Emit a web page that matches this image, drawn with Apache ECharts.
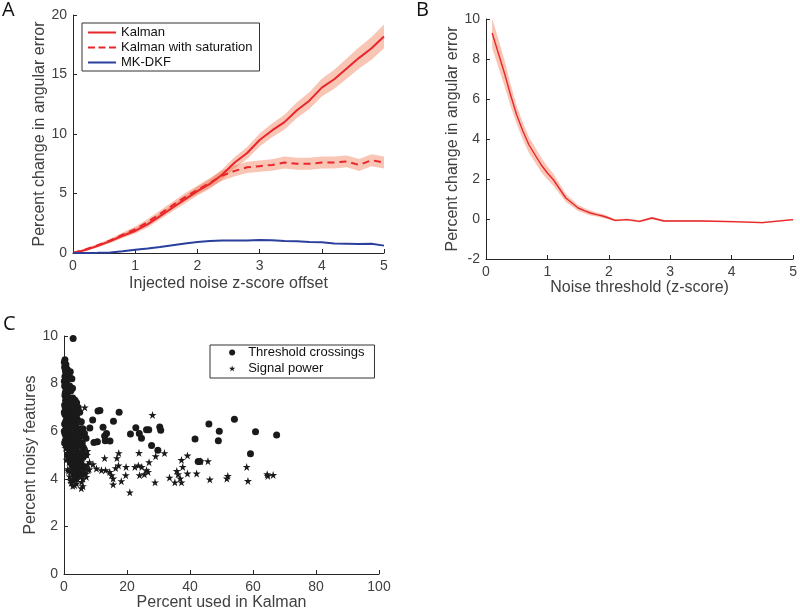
<!DOCTYPE html>
<html>
<head>
<meta charset="utf-8">
<script src="https://cdn.jsdelivr.net/npm/echarts@6/dist/echarts.min.js"></script>
<style>html,body{margin:0;padding:0;background:#fff}#c{width:800px;height:612px}</style>
</head>
<body>
<div id="c"></div>
<script>
// ---------- Panel A ----------
const xA = [0,0.2,0.4,0.6,0.8,1.0,1.2,1.4,1.6,1.8,2.0,2.2,2.4,2.6,2.8,3.0,3.2,3.4,3.6,3.8,4.0,4.2,4.4,4.6,4.8,5.0];
const kalman = [0,0.25,0.6,1.0,1.45,1.85,2.4,3.1,3.8,4.5,5.2,5.8,6.6,7.6,8.4,9.5,10.3,11.0,12.0,12.8,13.9,14.6,15.5,16.4,17.2,18.2];
const kalmanErr = [0,0.08,0.12,0.15,0.18,0.22,0.25,0.28,0.3,0.33,0.36,0.4,0.43,0.47,0.5,0.55,0.58,0.62,0.66,0.7,0.75,0.8,0.85,0.9,0.95,1.0];
const kalmanSat = [0,0.3,0.65,1.05,1.55,2.0,2.6,3.3,4.0,4.7,5.3,5.9,6.5,6.9,7.2,7.3,7.4,7.6,7.5,7.5,7.6,7.6,7.7,7.4,7.8,7.6];
const kalmanSatErr = [0,0.08,0.12,0.15,0.18,0.22,0.25,0.28,0.3,0.33,0.36,0.4,0.43,0.45,0.47,0.48,0.48,0.5,0.5,0.5,0.5,0.5,0.5,0.5,0.5,0.5];
const mkdkf = [0,0,0.02,0.05,0.15,0.28,0.38,0.5,0.65,0.8,0.92,1.0,1.05,1.05,1.05,1.1,1.08,1.0,0.98,0.93,0.9,0.8,0.78,0.76,0.78,0.62];

// ---------- Panel B ----------
const xB = [0.1,0.2,0.3,0.4,0.5,0.6,0.7,0.8,0.9,1.0,1.1,1.2,1.3,1.4,1.5,1.6,1.7,1.8,1.9,2.0,2.1,2.3,2.5,2.7,2.9,3.5,4.0,4.5,5.0];
const threshB = [9.3,8.3,7.3,6.2,5.2,4.4,3.7,3.2,2.7,2.3,1.95,1.5,1.05,0.8,0.55,0.42,0.3,0.22,0.15,0.05,-0.07,-0.03,-0.12,0.05,-0.1,-0.1,-0.13,-0.18,-0.03];
const threshBErr = [0.75,0.7,0.65,0.55,0.45,0.42,0.4,0.38,0.36,0.33,0.3,0.25,0.2,0.17,0.15,0.13,0.12,0.1,0.1,0.08,0.06,0.06,0.06,0.06,0.05,0.04,0.04,0.04,0.04];

// ---------- Panel C ----------
const crossings = [
 [2.9,9.9],[11.4,6.87],[10.8,6.85],[17.5,6.8],[9.1,6.47],[12.4,6.17],[15.7,6.42],[8.2,6.13],[13.5,5.9],[12.9,5.8],
 [13.1,5.6],[10.6,5.56],[9.5,5.53],[14.6,5.59],[21.1,5.88],[22.8,6.15],[23.9,5.9],[24.6,5.7],[26.2,6.06],[26.9,6.06],
 [27.8,5.4],[29.8,5.2],[30.4,6.18],[30.7,6.04],[41.6,5.67],[46.0,6.3],[49.3,6.0],[49.0,5.6],[54.1,6.5],[60.8,5.98],
 [59.2,5.05],[67.5,5.84],[42.6,4.73],[43.1,4.73],
 [0.3,9.0],[0.6,8.8],[0.2,8.7],[1.0,8.6],[0.5,8.5],[1.5,8.5],[2.0,8.5],[0.3,8.3],[1.2,8.2],[2.5,8.2],
 [0.8,8.0],[0.2,7.9],[1.8,7.9],[0.6,7.7],[1.4,7.7],[2.2,7.7],[0.3,7.5],[1.0,7.5],[2.8,7.4],[0.5,7.3],
 [1.6,7.3],[3.5,7.3],[0.2,7.1],[1.2,7.1],[2.3,7.1],[4.0,7.2],[0.7,6.9],[1.8,6.9],[2.9,6.9],[4.5,7.0],
 [0.3,6.7],[1.3,6.7],[2.5,6.7],[3.6,6.7],[5.0,6.8],[0.8,6.5],[2.0,6.5],[3.1,6.5],[4.2,6.5],[5.5,6.4],
 [0.2,6.3],[1.5,6.3],[2.6,6.3],[3.8,6.3],[0.6,6.1],[1.9,6.1],[3.2,6.1],[4.6,6.0],[6.0,6.1],[0.3,5.9],
 [1.2,5.9],[2.4,5.9],[3.6,5.9],[5.2,5.8],[0.8,5.7],[2.0,5.7],[3.0,5.6],[4.3,5.6],[5.8,5.5],[0.2,5.5],
 [1.5,5.5],[2.6,5.4],[3.9,5.3],[6.2,5.3],[1.0,5.3],[2.1,5.1],[3.3,5.0],[4.8,5.0],[1.6,4.9],[2.8,4.8],
 [4.1,4.7],[5.5,4.6],[3.0,4.5],[4.5,4.4],[3.6,4.3],[6.5,4.5],[5.0,4.2],[2.5,4.6],[7.0,5.7],[6.8,5.0],
 [0.1,8.9],[0.4,8.6],[0.9,8.4],[1.7,8.3],[0.1,8.1],[0.6,8.2],[1.1,7.9],[2.7,7.8],[0.4,7.6],[1.9,7.4],
 [1.3,7.4],[2.4,7.3],[0.9,7.2],[3.2,7.0],[0.4,7.0],[1.5,6.9],[2.2,6.8],[0.1,6.8],[3.3,6.8],[4.0,6.7],
 [1.0,6.6],[1.8,6.6],[2.8,6.6],[0.5,6.4],[1.2,6.4],[2.4,6.4],[3.5,6.4],[4.6,6.4],[0.9,6.2],[2.2,6.2],
 [2.9,6.2],[4.0,6.1],[5.3,6.1],[0.1,6.0],[1.6,6.0],[2.7,6.0],[4.3,5.9],[0.6,5.8],[1.7,5.7],[3.3,5.8],
 [4.8,5.7],[6.5,5.9],[0.4,5.6],[1.2,5.6],[2.4,5.6],[3.6,5.5],[5.0,5.4],[0.7,5.4],[1.9,5.3],[3.0,5.2],
 [4.4,5.1],[5.6,5.1],[2.4,5.0],[3.8,4.9],[1.2,5.0],[5.2,4.8],[3.3,4.6],[4.8,4.5],[2.0,4.7],[6.0,4.9],
 [4.0,4.3],[5.8,4.2],[3.2,4.2],[4.5,4.1],[3.8,4.0]
];
const signalPower = [
 [28.1,6.68],[7.4,5.17],[12.9,4.87],[17.4,5.08],[16.8,4.87],[23.8,5.09],[29.1,4.95],[31.9,5.08],[27.0,4.7],[39.2,4.98],
 [37.3,4.79],[37.7,4.5],[35.8,4.33],[36.2,4.19],[36.9,4.01],[33.5,4.05],[35.2,3.85],[37.3,3.85],[28.9,3.85],[20.9,3.43],
 [42.1,4.22],[39.2,4.22],[43.4,4.74],[45.7,4.74],[46.3,3.97],[58.0,4.5],[58.4,3.91],[51.7,4.01],[52.0,4.12],[64.5,4.19],
 [66.4,4.16],[64.7,4.12],[23.6,4.56],[24.0,4.15],[26.2,4.36],[26.7,4.29],[25.5,4.19],[24.7,4.5],[22.5,4.5],[19.7,4.5],
 [19.6,4.15],[18.2,3.9],[15.6,4.01],[15.6,3.76],[15.1,4.15],[16.4,4.45],[17.3,4.56],[14.5,4.29],[13.2,4.36],[11.9,4.36],
 [10.3,4.43],[9.2,4.61],[8.1,4.7],[7.7,4.36],[5.5,3.6],[6.0,3.69],[3.4,3.73],[2.3,3.83],[2.0,3.94],[5.6,3.87],
 [7.1,4.08],[1.4,4.33],
 [0.5,5.3],[1.0,5.1],[1.5,5.2],[2.0,5.0],[2.5,4.9],[3.0,5.1],[0.8,4.8],[1.6,4.7],[2.3,4.6],[3.2,4.7],
 [4.0,4.8],[4.8,4.6],[5.5,4.7],[6.2,4.5],[1.2,4.4],[2.0,4.3],[2.8,4.4],[3.5,4.3],[4.3,4.4],[5.0,4.3],
 [5.8,4.3],[6.6,4.4],[7.5,4.6],[1.8,4.1],[2.6,4.0],[3.4,4.1],[4.2,4.0],[5.1,4.1],[6.0,4.0],[3.0,3.9],
 [4.0,3.8],[2.8,3.7],[4.6,4.9],[6.9,4.2],[8.0,4.4],[7.3,5.0],[3.8,5.3],[5.3,5.0],[6.6,7.0],[5.4,6.0]
];

// ---------- build ----------
const RED = '#e8262b', BLUE = '#2b3f9c', BAND = 'rgba(240,110,70,0.40)', AX = '#262626', TXT = '#404040';
const FONT = 'Liberation Sans, Arial, sans-serif';
const STAR = 'path://M50,0 L61.2,34.5 L97.6,34.5 L68.2,55.9 L79.4,90.5 L50,69.1 L20.6,90.5 L31.8,55.9 L2.4,34.5 L38.8,34.5 Z';
const ICON_SOLID = 'path://M0,0 L28,0 L28,2 L0,2 Z';
const ICON_DASH = 'path://M0,0 L7,0 L7,2 L0,2 Z M10.5,0 L17.5,0 L17.5,2 L10.5,2 Z M21,0 L28,0 L28,2 L21,2 Z';

function pairs(xs, ys){ return xs.map((x,i)=>[x, ys[i]]); }

function axisCommon(){
  return {
    axisLine:{show:true, onZero:false, lineStyle:{color:AX, width:1}},
    axisTick:{show:true, inside:true, length:4, lineStyle:{color:AX}},
    axisLabel:{color:TXT, fontSize:14, fontFamily:FONT, margin:6},
    splitLine:{show:false},
    nameLocation:'middle',
    nameTextStyle:{color:TXT, fontSize:16, fontFamily:FONT}
  };
}
function ax(grid, min, max, interval, name, gap){
  return Object.assign(axisCommon(), {type:'value', gridIndex:grid, min, max, interval, name, nameGap:gap});
}
// shaded error band: polygon through (x, y+e) forward and (x, y-e) backward, via the axis scales
function bandSeries(id, xi, xs, ys, e){
  return {
    type:'custom', name:id, xAxisIndex:xi, yAxisIndex:xi, silent:true, z:1,
    data: xs.map((x,i)=>[x, ys[i]-e[i], ys[i]+e[i]]),
    encode:{x:0, y:[1,2]},
    renderItem: function(params, api){
      if (params.dataIndex !== 0) return null;
      const pts = [];
      for (let i = 0; i < xs.length; i++) pts.push(api.coord([xs[i], ys[i]+e[i]]));
      for (let i = xs.length-1; i >= 0; i--) pts.push(api.coord([xs[i], ys[i]-e[i]]));
      return {type:'polygon', shape:{points:pts}, style:{fill:BAND, stroke:null}};
    }
  };
}

const chart = echarts.init(document.getElementById('c'), null, {renderer:'canvas'});
chart.setOption({
  animation:false,
  backgroundColor:'#fff',
  textStyle:{fontFamily:FONT},
  grid:[
    {left:73, top:15, width:311, height:238},
    {left:486, top:19, width:310, height:240},
    {left:64, top:336, width:315, height:241}
  ],
  xAxis:[
    ax(0,0,5,1,'Injected noise z-score offset',23),
    ax(1,0,5,1,'Noise threshold (z-score)',20),
    ax(2,0,100,20,'Percent used in Kalman',21)
  ],
  yAxis:[
    ax(0,0,20,5,'Percent change in angular error',23),
    ax(1,-2,10,2,'Percent change in angular error',25),
    ax(2,0,10,2,'Percent noisy features',23)
  ],
  legend:[
    {data:[{name:'Kalman',icon:ICON_SOLID},{name:'Kalman with saturation',icon:ICON_DASH},{name:'MK-DKF',icon:ICON_SOLID}],
     orient:'vertical', left:82, top:23,
     itemWidth:28, itemHeight:2, itemGap:0, padding:[2,7,1,6], borderColor:'#333', borderWidth:1,
     textStyle:{color:'#111', fontSize:13, lineHeight:15, fontFamily:FONT}, selectedMode:false},
    {data:['Threshold crossings','Signal power'], orient:'vertical', left:210, top:345,
     itemWidth:22, itemHeight:6, itemGap:1, padding:[0,10,2,19], borderColor:'#333', borderWidth:1,
     textStyle:{color:'#111', fontSize:13, lineHeight:15, fontFamily:FONT}, selectedMode:false}
  ],
  graphic:[
    {type:'text', left:2, top:0, style:{text:'A', fontSize:20, fontFamily:'Open Sans, sans-serif', fill:'#111'}},
    {type:'text', left:416, top:0, style:{text:'B', fontSize:20, fontFamily:'Open Sans, sans-serif', fill:'#111'}},
    {type:'text', left:3, top:314, style:{text:'C', fontSize:20, fontFamily:'Open Sans, sans-serif', fill:'#111'}}
  ],
  series:[
    bandSeries('kA',0,xA,kalman,kalmanErr),
    bandSeries('sA',0,xA,kalmanSat,kalmanSatErr),
    {type:'line', name:'Kalman', xAxisIndex:0, yAxisIndex:0, data:pairs(xA,kalman), symbol:'none',
     lineStyle:{color:RED, width:2}, itemStyle:{color:RED}, z:3},
    {type:'line', name:'Kalman with saturation', xAxisIndex:0, yAxisIndex:0, data:pairs(xA,kalmanSat), symbol:'none',
     lineStyle:{color:RED, width:2, type:[7,5]}, itemStyle:{color:RED}, z:3},
    {type:'line', name:'MK-DKF', xAxisIndex:0, yAxisIndex:0, data:pairs(xA,mkdkf), symbol:'none',
     lineStyle:{color:BLUE, width:2}, itemStyle:{color:BLUE}, z:3},
    bandSeries('tB',1,xB,threshB,threshBErr),
    {type:'line', name:'Threshold', xAxisIndex:1, yAxisIndex:1, data:pairs(xB,threshB), symbol:'none',
     lineStyle:{color:RED, width:1.4}, z:3},
    {type:'scatter', name:'Threshold crossings', xAxisIndex:2, yAxisIndex:2, data:crossings,
     symbol:'circle', symbolSize:7, itemStyle:{color:'#1a1a1a', opacity:1}, z:3},
    {type:'scatter', name:'Signal power', xAxisIndex:2, yAxisIndex:2, data:signalPower,
     symbol:STAR, symbolSize:8, itemStyle:{color:'#1a1a1a', opacity:1}, z:3}
  ]
});
</script>
</body>
</html>
